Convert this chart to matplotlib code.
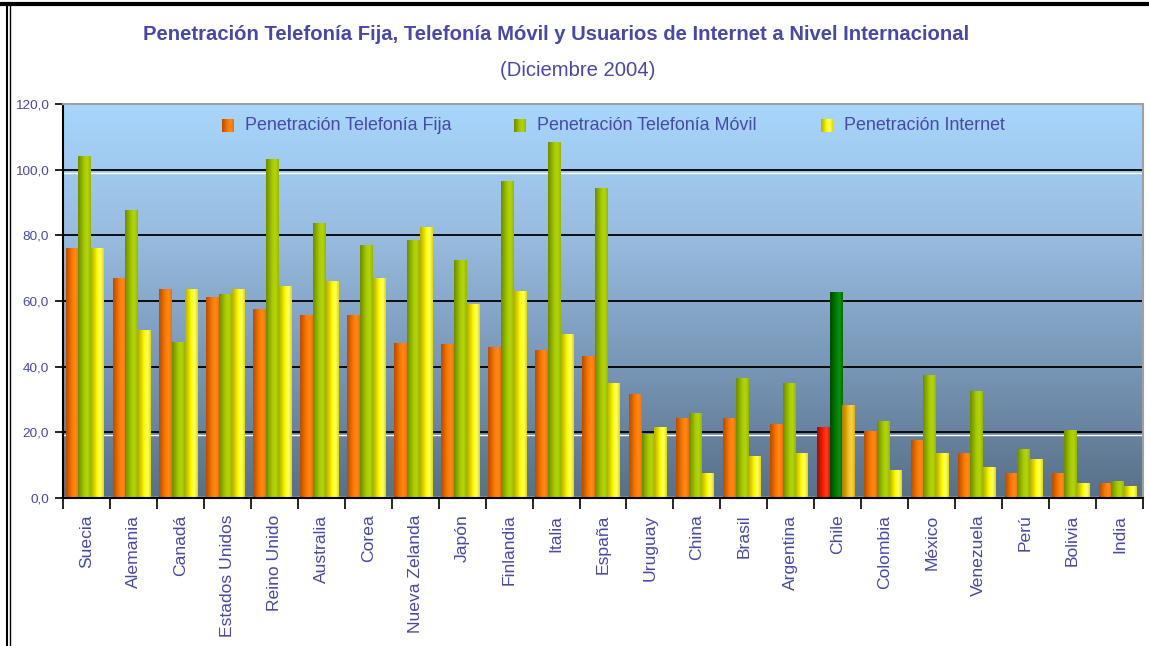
import matplotlib
matplotlib.use("Agg")
import matplotlib.pyplot as plt
import numpy as np
from matplotlib.colors import LinearSegmentedColormap
from matplotlib.lines import Line2D

plt.rcParams['font.family'] = ['Liberation Sans', 'DejaVu Sans']

### data ###
paises = ['Suecia', 'Alemania', 'Canadá', 'Estados Unidos', 'Reino Unido', 'Australia',
          'Corea', 'Nueva Zelanda', 'Japón', 'Finlandia', 'Italia', 'España', 'Uruguay',
          'China', 'Brasil', 'Argentina', 'Chile', 'Colombia', 'México', 'Venezuela',
          'Perú', 'Bolivia', 'India']
fija = [76.0, 67.0, 63.5, 61.0, 57.5, 55.5, 55.5, 47.0, 46.7, 45.8, 45.0, 43.2, 31.5,
        24.3, 24.3, 22.4, 21.5, 20.2, 17.5, 13.5, 7.5, 7.5, 4.5]
movil = [104.0, 87.5, 47.5, 62.0, 103.0, 83.5, 77.0, 78.3, 72.4, 96.3, 108.4, 94.4, 19.3,
         25.7, 36.3, 35.0, 62.5, 23.4, 37.3, 32.3, 14.8, 20.6, 5.0]
internet = [76.0, 51.0, 63.5, 63.5, 64.5, 66.0, 67.0, 82.3, 58.9, 63.0, 49.9, 35.0, 21.5,
            7.5, 12.5, 13.5, 28.2, 8.5, 13.5, 9.3, 11.8, 4.5, 3.6]
series_names = ['Penetración Telefonía Fija', 'Penetración Telefonía Móvil', 'Penetración Internet']
yticks = [0, 20, 40, 60, 80, 100, 120]

txt_col = '#4848a8'

# cylinder-like shading: dark left edge, bright body, highlight, slightly dark right edge
shades = {
    'orange': ['#b84e00', '#d86400', '#ff7a00', '#ff8a20', '#f07000'],
    'green': ['#6e8c00', '#8aab00', '#a8cc00', '#b4d410', '#98b800'],
    'yellow': ['#b8b000', '#d8d400', '#ffff00', '#ffff70', '#e0da00'],
    'red': ['#a01000', '#c81800', '#ff2000', '#ff4020', '#e01800'],
    'dkgreen': ['#004a00', '#006400', '#008000', '#109010', '#007000'],
    'gold': ['#b08000', '#d09a00', '#f0c020', '#f8d050', '#e0b010'],
}
cmaps = {k: LinearSegmentedColormap.from_list(k, v) for k, v in shades.items()}
grad = np.linspace(0, 1, 32).reshape(1, -1)

fig = plt.figure(figsize=(11.49, 6.46), dpi=100)
ax = fig.add_axes([63/1149, 1 - 498/646, (1143-63)/1149, (498-104)/646])

n = len(paises)
x = np.arange(n)

# background gradient
bg = LinearSegmentedColormap.from_list('bg', ['#587088', '#7896b6', '#98bce0', '#a8d6fc'])
ax.imshow(np.linspace(0, 1, 256).reshape(-1, 1), cmap=bg, origin='lower', aspect='auto',
          extent=(-0.5, n - 0.5, 0, 120), zorder=0)

# grid lines
for g in yticks[1:-1]:
    ax.axhline(g, color='black', lw=1.3, zorder=1)
for g in [100, 20]:
    ax.axhline(g - 0.9, color='white', lw=1.0, zorder=1)
ax.axhline(0.4, color='white', lw=1.0, zorder=1)

bw = 0.27
offs = [-0.27, 0.0, 0.27]
for i in range(n):
    if paises[i] == 'Chile':
        keys = ['red', 'dkgreen', 'gold']
    else:
        keys = ['orange', 'green', 'yellow']
    for vals, off, k in zip([fija, movil, internet], offs, keys):
        x0 = x[i] - 0.04 + off - bw / 2
        ax.imshow(grad, cmap=cmaps[k], aspect='auto', extent=(x0, x0 + bw, 0, vals[i]),
                  zorder=2, interpolation='bilinear')

ax.set_xlim(-0.5, n - 0.5)
ax.set_ylim(0, 120)

# axes styling
for s in ['top', 'right']:
    ax.spines[s].set_color('#a0a0a0')
    ax.spines[s].set_linewidth(1.5)
ax.spines['left'].set_color('black')
ax.spines['bottom'].set_color('black')
ax.spines['left'].set_linewidth(1.5)
ax.spines['bottom'].set_linewidth(1.5)

ax.set_yticks(yticks)
ax.set_yticklabels([('%.1f' % v).replace('.', ',') for v in yticks], color=txt_col, fontsize=9.7)
ax.tick_params(axis='y', direction='out', length=6, width=1.2, pad=4)

ax.set_xticks(x)
ax.set_xticklabels(paises, rotation=90, color=txt_col, fontsize=12.6)
ax.tick_params(axis='x', which='major', length=0, pad=12)
ax.set_xticks(np.arange(n + 1) - 0.5, minor=True)
ax.tick_params(axis='x', which='minor', direction='out', length=8, width=1.2)

# legend drawn by hand inside the plot, little shaded bars as keys
leg_x = [222, 514, 821]
leg_keys = ['orange', 'green', 'yellow']
for lx, k, name in zip(leg_x, leg_keys, series_names):
    kax = fig.add_axes([lx/1149, 1 - 132/646, 12/1149, 13/646])
    kax.imshow(grad, cmap=cmaps[k], aspect='auto', interpolation='bilinear')
    kax.axis('off')
    fig.text((lx + 23)/1149, 1 - 126/646, name, color=txt_col, fontsize=12.9, va='center', ha='left')

# titles
fig.text(556/1149, 1 - 35/646, 'Penetración Telefonía Fija, Telefonía Móvil y Usuarios de Internet a Nivel Internacional',
         color=txt_col, fontsize=14.6, fontweight='bold', ha='center', va='center')
fig.text(578/1149, 1 - 70/646, '(Diciembre 2004)', color=txt_col, fontsize=14.6, ha='center', va='center')

# page frame
fig.add_artist(Line2D([0, 1], [1 - 4/646, 1 - 4/646], color='black', lw=3, transform=fig.transFigure))
fig.add_artist(Line2D([7/1149, 7/1149], [0, 1 - 4/646], color='black', lw=1.5, transform=fig.transFigure))
fig.add_artist(Line2D([10/1149, 10/1149], [0, 1 - 4/646], color='black', lw=1.0, transform=fig.transFigure))

fig.savefig('out.png', dpi=100)
